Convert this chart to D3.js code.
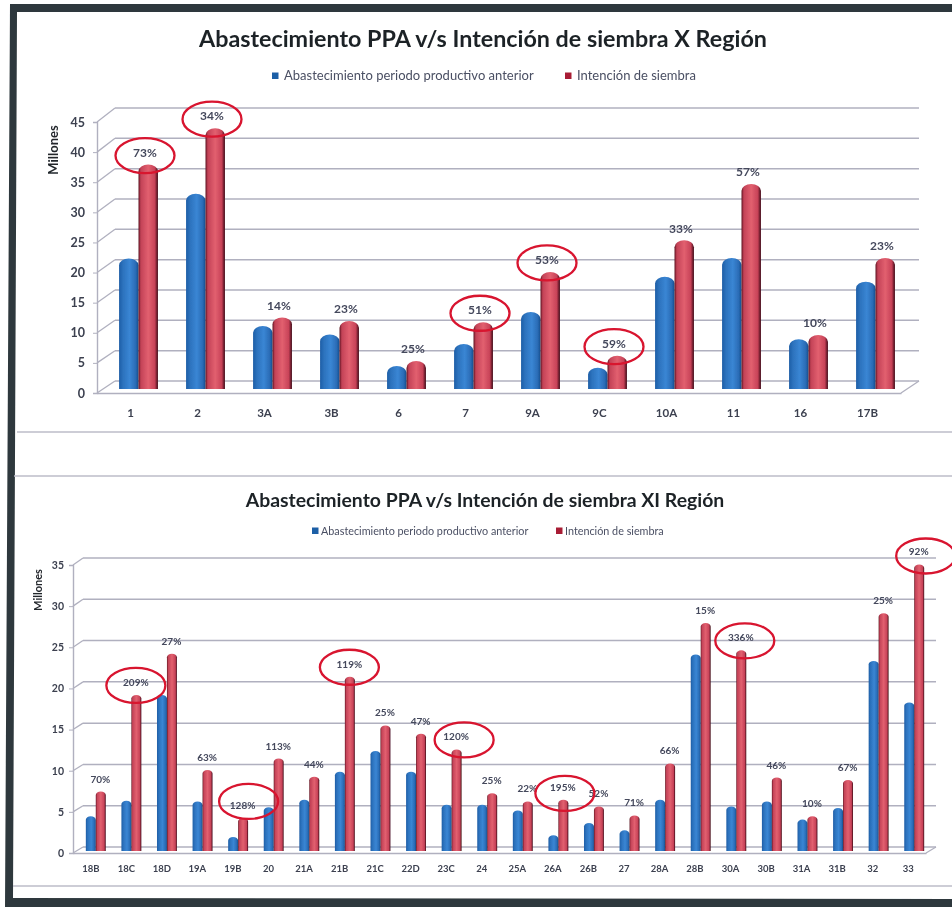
<!DOCTYPE html>
<html lang="es">
  <head>
    <meta charset="utf-8">
    <title>Abastecimiento PPA v/s Intención de siembra</title>
    <script src="https://d3js.org/d3.v7.js"></script>
    <style>
      html, body { margin: 0; padding: 0; background: #fff; }
      svg { display: block; }
      text { font-family: Lato, "Open Sans", sans-serif; }
    </style>
  </head>
  <body>
    <script type="text/javascript">
      // Data
      var seriesNames = ["Abastecimiento periodo productivo anterior", "Intención de siembra"];

      var catsX = ["1", "2", "3A", "3B", "6", "7", "9A", "9C", "10A", "11", "16", "17B"];
      var abastX = [21.5, 32.2, 10.4, 9, 3.8, 7.4, 12.7, 3.5, 18.5, 21.6, 8.2, 17.7];
      var intencionX = [37, 43, 11.8, 11.2, 4.6, 11, 19.3, 5.5, 24.5, 33.8, 8.9, 21.6];
      var pctX = ["73%", "34%", "14%", "23%", "25%", "51%", "53%", "59%", "33%", "57%", "10%", "23%"];
      var circledX = ["1", "2", "7", "9A", "9C"];

      var catsXI = ["18B", "18C", "18D", "19A", "19B", "20", "21A", "21B", "21C", "22D", "23C", "24",
                    "25A", "26A", "26B", "27", "28A", "28B", "30A", "30B", "31A", "31B", "32", "33"];
      var abastXI = [4.2, 6.1, 18.9, 6, 1.7, 5.3, 6.2, 9.6, 12.1, 9.6, 5.6, 5.6,
                     4.9, 1.9, 3.4, 2.5, 6.2, 23.8, 5.4, 6, 3.8, 5.2, 23, 18];
      var intencionXI = [7.2, 18.9, 23.9, 9.8, 4, 11.2, 9, 21.1, 15.2, 14.2, 12.3, 7,
                         6, 6.2, 5.4, 4.3, 10.6, 27.6, 24.3, 8.9, 4.2, 8.6, 28.8, 34.7];
      var pctXI = ["70%", "209%", "27%", "63%", "128%", "113%", "44%", "119%", "25%", "47%", "120%", "25%",
                   "22%", "195%", "52%", "71%", "66%", "15%", "336%", "46%", "10%", "67%", "25%", "92%"];
      var circledXI = ["18C", "19B", "21B", "23C", "26A", "30A", "33"];

      var ticksX = [0, 5, 10, 15, 20, 25, 30, 35, 40, 45];
      var ticksXI = [0, 5, 10, 15, 20, 25, 30, 35];

      var w = 952;
      var h = 907;
      var gridColor = "#b0b0bf";

      var svg = d3.select("body")
          .append("svg")
          .attr("width", w)
          .attr("height", h);

      // gradients for the cylinders, blur for the scanned look
      var defs = svg.append("defs");

      function addGradient(id, stops) {
        var g = defs.append("linearGradient").attr("id", id);
        stops.forEach(function(s) {
          g.append("stop").attr("offset", s[0]).attr("stop-color", s[1]);
        });
      }
      addGradient("barBlue", [[0, "#1f5ea6"], [0.2, "#2c72bd"], [0.55, "#3a86d4"], [0.85, "#2a6cb6"], [1, "#184f8e"]]);
      addGradient("barRed", [[0, "#5e1420"], [0.12, "#c34257"], [0.5, "#e2606f"], [0.84, "#c74258"], [1, "#3c0a14"]]);

      defs.append("filter").attr("id", "scan")
          .attr("x", 0).attr("y", 0)
          .attr("width", w).attr("height", h)
          .attr("filterUnits", "userSpaceOnUse")
          .append("feGaussianBlur").attr("stdDeviation", 0.5);

      var page = svg.append("g").attr("filter", "url(#scan)");

      // frame and panel separators
      page.append("path")
          .attr("d", "M10,4 L952,4 L952,12 L17,12 L13,898 L952,899 L952,907 L5,907 Z")
          .attr("fill", "#2e383c");

      [[17, 432], [14, 476], [13, 886]].forEach(function(l) {
        page.append("line")
            .attr("x1", l[0]).attr("x2", w)
            .attr("y1", l[1]).attr("y2", l[1])
            .attr("stroke", "#bcbcc8")
            .attr("stroke-width", 1.4);
      });

      function drawChart(o) {
        var g = page.append("g");

        // scales: the 3D box has a front axis, a back wall and the bars half way between
        var yFront = d3.scaleLinear().domain(o.yDomain).range(o.yFront);
        var yBack = d3.scaleLinear().domain(o.yDomain).range(o.yBack);
        var yBar = d3.scaleLinear().domain(o.yDomain).range(o.yBar);

        var xAxisScale = d3.scaleBand().domain(o.cats).range(o.xFront);
        var x0 = d3.scaleBand().domain(o.cats).range(o.xBars)
            .paddingInner(o.gap).paddingOuter(o.gap / 2);
        var x1 = d3.scaleBand().domain(seriesNames).range([0, x0.bandwidth()]);

        // title
        g.append("text")
            .attr("x", o.titleX).attr("y", o.titleY)
            .attr("text-anchor", "middle")
            .attr("font-size", o.titleSize)
            .attr("font-weight", 700)
            .attr("fill", "#1c2226")
            .text(o.title);

        // legend
        seriesNames.forEach(function(name, i) {
          g.append("rect")
              .attr("x", o.legendX[i]).attr("y", o.legendY - 3.5)
              .attr("width", 6.5).attr("height", 6.5)
              .attr("fill", i == 0 ? "#1f5ea6" : "#a81f35");
          g.append("text")
              .attr("x", o.legendX[i] + o.legendGap).attr("y", o.legendY + 3.5)
              .attr("font-size", o.legendSize)
              .attr("fill", "#4a4f63")
              .text(name);
        });

        // back wall grid
        g.append("g").selectAll("line")
            .data(o.ticks)
            .enter().append("line")
            .attr("x1", o.xBack[0]).attr("x2", o.xBack[1])
            .attr("y1", function(d) { return yBack(d); })
            .attr("y2", function(d) { return yBack(d); })
            .attr("stroke", gridColor)
            .attr("stroke-width", 1.5);

        // side wall diagonals
        g.append("g").selectAll("line")
            .data(o.ticks)
            .enter().append("line")
            .attr("x1", o.xFront[0]).attr("x2", o.xBack[0])
            .attr("y1", function(d) { return yFront(d); })
            .attr("y2", function(d) { return yBack(d); })
            .attr("stroke", gridColor)
            .attr("stroke-width", 1.3);

        // floor edge on the right
        g.append("line")
            .attr("x1", o.xFront[1]).attr("x2", o.xBack[1])
            .attr("y1", yFront(0)).attr("y2", yBack(0))
            .attr("stroke", gridColor)
            .attr("stroke-width", 1.3);

        // y axis
        var yAxis = d3.axisLeft(yFront)
            .tickValues(o.ticks)
            .tickSize(4)
            .tickPadding(o.tickPad);
        var yG = g.append("g")
            .attr("transform", "translate(" + o.xFront[0] + ",0)")
            .call(yAxis);
        yG.select(".domain").attr("stroke", gridColor).attr("stroke-width", 1.4);
        yG.selectAll(".tick line").attr("stroke", gridColor);
        yG.selectAll("text")
            .attr("font-size", o.tickSize)
            .attr("font-weight", 700)
            .attr("fill", "#3c4150")
            .style("font-family", "Lato");

        // x axis
        var xAxis = d3.axisBottom(xAxisScale)
            .tickSize(0)
            .tickPadding(o.catPad);
        var xG = g.append("g")
            .attr("transform", "translate(0," + yFront(0) + ")")
            .call(xAxis);
        xG.select(".domain").attr("stroke", gridColor).attr("stroke-width", 1.5);
        xG.selectAll("text")
            .attr("font-size", o.catSize)
            .attr("font-weight", 700)
            .attr("fill", "#3c4150")
            .style("font-family", "Lato");

        // y axis title
        g.append("text")
            .attr("transform", "translate(" + o.yTitle[0] + "," + o.yTitle[1] + ") rotate(-90)")
            .attr("text-anchor", "middle")
            .attr("font-size", o.yTitleSize)
            .attr("font-weight", 700)
            .attr("fill", "#22262c")
            .text("Millones");

        // bars
        function barPath(x, y, bw, base) {
          var r = bw / 2;
          return "M" + x + "," + base + " L" + x + "," + (y + r * 0.7) +
                 " A" + r + "," + (r * 0.7) + " 0 0 1 " + (x + bw) + "," + (y + r * 0.7) +
                 " L" + (x + bw) + "," + base + " Z";
        }

        o.series.forEach(function(values, s) {
          g.append("g").selectAll("path")
              .data(values)
              .enter().append("path")
              .attr("d", function(d, i) {
                return barPath(x0(o.cats[i]) + x1(seriesNames[s]), yBar(d), x1.bandwidth(), yBar(0));
              })
              .attr("fill", s == 0 ? "url(#barBlue)" : "url(#barRed)");
        });

        // percentage labels above the red bars
        function labelX(c) { return x0(c) + x0.bandwidth() / 2 + o.labelDx; }
        function labelY(i) { return yBar(o.series[1][i]) - o.labelUp; }

        g.append("g").selectAll("text")
            .data(o.pct)
            .enter().append("text")
            .attr("x", function(d, i) { return labelX(o.cats[i]); })
            .attr("y", function(d, i) { return labelY(i); })
            .attr("dy", "0.35em")
            .attr("text-anchor", "middle")
            .attr("font-size", o.pctSize)
            .attr("font-weight", 700)
            .attr("fill", "#44485c")
            .text(function(d) { return d; });

        // red hand drawn circles
        g.append("g").selectAll("ellipse")
            .data(o.circled)
            .enter().append("ellipse")
            .attr("cx", function(c) { return labelX(c) + (o.nudge[c] ? o.nudge[c][0] : 0); })
            .attr("cy", function(c) {
              return labelY(o.cats.indexOf(c)) + (o.nudge[c] ? o.nudge[c][1] : 3);
            })
            .attr("rx", 29.5)
            .attr("ry", 17.5)
            .attr("fill", "none")
            .attr("stroke", "#d8122f")
            .attr("stroke-width", 2.3);
      }

      drawChart({
        title: "Abastecimiento PPA v/s Intención de siembra X Región",
        titleX: 483, titleY: 47, titleSize: 23.3,
        legendX: [272, 565], legendY: 76, legendSize: 13, legendGap: 12,
        cats: catsX, series: [abastX, intencionX], pct: pctX, circled: circledX,
        ticks: ticksX, yDomain: [0, 45],
        yFront: [393, 122], yBack: [381, 108], yBar: [389, 116],
        xFront: [97, 901], xBack: [115, 919], xBars: [105, 909], gap: 0.42,
        tickPad: 8, tickSize: 12.5, catPad: 16, catSize: 11.5,
        yTitle: [58, 150], yTitleSize: 13,
        labelDx: 6.5, labelUp: 12, pctSize: 12,
        nudge: {}
      });

      drawChart({
        title: "Abastecimiento PPA v/s Intención de siembra XI Región",
        titleX: 485, titleY: 507, titleSize: 19.4,
        legendX: [312, 556], legendY: 531, legendSize: 10.8, legendGap: 9,
        cats: catsXI, series: [abastXI, intencionXI], pct: pctXI, circled: circledXI,
        ticks: ticksXI, yDomain: [0, 35],
        yFront: [853, 565], yBack: [847, 558], yBar: [851, 562],
        xFront: [73, 926], xBack: [83, 936], xBars: [78, 932], gap: 0.44,
        tickPad: 5, tickSize: 10.5, catPad: 12, catSize: 9.5,
        yTitle: [42, 590], yTitleSize: 11,
        labelDx: 4.5, labelUp: 12.5, pctSize: 10,
        nudge: {"19B": [6, -4], "23C": [8, 3], "33": [7, 4], "30A": [4, 3], "26A": [2, 6]}
      });
    </script>
  </body>
</html>
